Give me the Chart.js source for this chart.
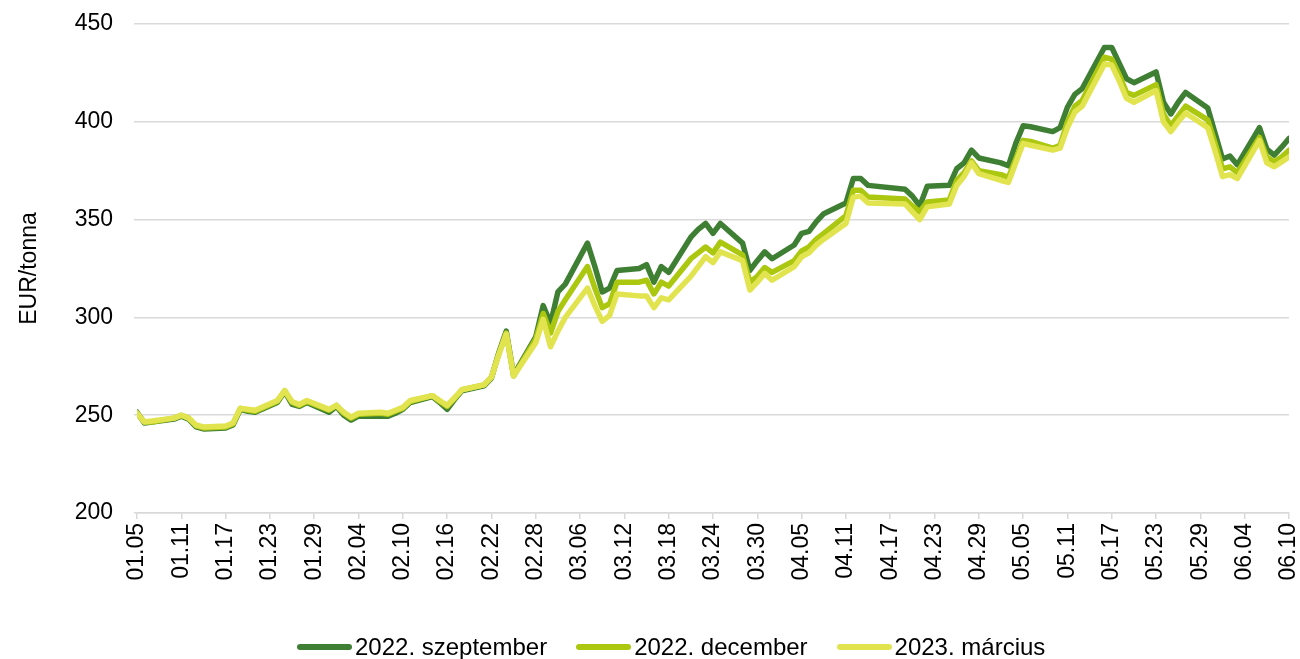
<!DOCTYPE html>
<html>
<head>
<meta charset="utf-8">
<script src="https://cdn.jsdelivr.net/npm/chart.js@4"></script>
<style>
  body { margin: 0; background: #fff; }
  #wrap { position: relative; width: 1300px; height: 659px; }
  #legend {
    position: absolute; left: 297px; top: 633px; height: 28px;
    display: flex; align-items: center;
    font-family: "Liberation Sans", Arial, sans-serif; font-size: 24px; color: #000;
  }
  .item { display: flex; align-items: center; margin-right: 29px; }
  .swatch { display: inline-block; width: 55px; height: 6px; border-radius: 3px; margin-right: 3px; }
</style>
</head>
<body>
<div id="wrap">
  <canvas id="chartCanvas" width="1300" height="659"></canvas>
  <div id="legend"></div>
</div>
<script>
// trading days, MM.DD (2022)
const dates = [
  '01.05','01.06','01.07','01.10','01.11','01.12','01.13','01.14','01.17','01.18','01.19','01.20','01.21','01.24','01.25','01.26','01.27','01.28','01.31',
  '02.01','02.02','02.03','02.04','02.07','02.08','02.09','02.10','02.11','02.14','02.15','02.16','02.17','02.18','02.21','02.22','02.23','02.24','02.25','02.28',
  '03.01','03.02','03.03','03.04','03.07','03.08','03.09','03.10','03.11','03.14','03.15','03.16','03.17','03.18','03.21','03.22','03.23','03.24','03.25','03.28','03.29','03.30','03.31',
  '04.01','04.04','04.05','04.06','04.07','04.08','04.11','04.12','04.13','04.14','04.19','04.20','04.21','04.22','04.25','04.26','04.27','04.28','04.29',
  '05.02','05.03','05.04','05.05','05.06','05.09','05.10','05.11','05.12','05.13','05.16','05.17','05.18','05.19','05.20','05.23','05.24','05.25','05.26','05.27','05.30','05.31',
  '06.01','06.02','06.03','06.06','06.07','06.08','06.09','06.10'
];

const tickLabels = ['01.05','01.11','01.17','01.23','01.29','02.04','02.10','02.16','02.22','02.28','03.06','03.12','03.18',
  '03.24','03.30','04.05','04.11','04.17','04.23','04.29','05.05','05.11','05.17','05.23','05.29','06.04','06.10'];

const seriesNames = ['2022. szeptember', '2022. december', '2023. március'];
const seriesColors = ['#3f7f34', '#abc70f', '#e2e44f'];

const sep2022 = [
  251.5, 246, 246.5, 248, 249.5, 248, 244, 243, 243.5, 245, 253, 252, 251.5, 256.5, 262, 255.5, 254.5, 256.5, 251.5,
  254.5, 250, 247.5, 249.5, 249.5, 249.5, 251, 253, 256.5, 259.5, 256.5, 253, 258, 262.5, 265, 269, 282, 293, 270.5, 290,
  306, 297, 313, 317, 338, 326, 313, 315, 324, 325, 327, 318, 326, 323, 341, 345, 348, 343, 348, 338, 324, 329, 333.5,
  330, 337, 343, 344, 349, 353, 358.5, 371, 371, 367.5, 365.5, 362, 357, 367, 367.5, 376, 379, 385.5, 381.5,
  379, 377.5, 389, 398, 397.5, 395, 397, 407.5, 414, 417, 438, 438, 430, 422, 420, 425.5, 410, 404, 410, 415, 407, 394,
  381, 382.5, 378, 397, 386, 383, 387, 391.5
];
const dec2022 = [
  251, 246.5, 246.5, 248.5, 250, 248.5, 244.5, 243.5, 244, 245.5, 253.5, 252.5, 252, 257, 262.5, 256.5, 255, 257, 252.5,
  255, 251, 248.5, 250.5, 251, 250.5, 252, 253.5, 257, 260, 257, 254.5, 258.5, 263, 265.5, 269.5, 281.5, 292, 270, 289,
  302, 292, 303, 309, 326, 315, 305, 307, 318, 318, 319, 312, 318, 316, 330, 333, 336, 333, 338.5, 332, 318, 321, 325.5,
  323, 329, 334, 336, 340, 343, 352, 365, 365, 361.5, 360.5, 357, 354, 359, 360, 370, 374, 380, 375,
  373, 371.5, 381, 390.5, 390, 386.5, 388, 400, 408, 411, 433, 432, 424, 415, 413.5, 419, 404, 398, 403, 408, 401, 389,
  376, 377, 374, 392, 382, 379.5, 382, 385.5
];
const mar2023 = [
  251, 246.5, 247, 248.5, 250, 248.5, 245, 244, 244.5, 246, 253.5, 253, 252.5, 257.5, 262.5, 257, 255.5, 257.5, 253,
  255, 251.5, 249, 251, 251.5, 251, 252.5, 254, 257.5, 260, 257.5, 255, 259, 263, 265.5, 269.5, 281, 291.5, 270, 287,
  299, 285, 293, 300, 315, 306, 298, 301, 312, 311, 311, 305, 310, 309, 321, 326, 331, 328, 333.5, 329, 314, 318, 322.5,
  319, 326, 331, 333, 337, 340, 348, 361.5, 362, 358.5, 358, 354, 350, 356.5, 358, 367.5, 372, 379, 373.5,
  370, 369, 379, 389, 388, 385.5, 386.5, 397, 405, 408, 429.5, 429, 421, 412, 410, 416, 400, 395, 400, 404.5, 397, 385,
  372, 373, 371, 390.5, 379, 377, 379.5, 382
];

const fontFamily = '"Liberation Sans", Arial, sans-serif';
const startDay = new Date(2022, 0, 5);

function dayOffset(label) {
  const parts = label.split('.');
  const d = new Date(2022, parseInt(parts[0]) - 1, parseInt(parts[1]));
  return Math.round((d - startDay) / 86400000);
}

function makeSeries(values) {
  return dates.map((d, i) => ({x: dayOffset(d), y: values[i]}));
}

const allValues = [sep2022, dec2022, mar2023];
const datasets = allValues.map((values, i) => ({
  label: seriesNames[i],
  data: makeSeries(values),
  borderColor: seriesColors[i],
  backgroundColor: seriesColors[i],
  borderWidth: 5.5,
  pointRadius: 0,
  tension: 0,
  fill: false,
  borderJoinStyle: 'round',
  borderCapStyle: 'round',
  order: 3 - i // lighter lines on top
}));

const ctx = document.getElementById('chartCanvas').getContext('2d');
const chart = new Chart(ctx, {
  type: 'line',
  data: {datasets: datasets},
  options: {
    responsive: false,
    animation: false,
    devicePixelRatio: 1,
    layout: {padding: {top: 24, right: 11, bottom: 0, left: 0}},
    scales: {
      x: {
        type: 'linear',
        min: 0,
        max: 156,
        afterFit: (scale) => {
          scale.height = 146;
          scale.paddingLeft = 0;
          scale.paddingRight = 0;
        },
        ticks: {
          stepSize: 6,
          autoSkip: false,
          minRotation: 90,
          maxRotation: 90,
          padding: 4,
          color: '#000',
          font: {family: fontFamily, size: 23},
          callback: (value) => tickLabels[Math.round(value / 6)]
        },
        grid: {drawOnChartArea: false, drawTicks: true, tickLength: 6, color: '#d9d9d9', lineWidth: 1.5},
        border: {display: true, color: '#d9d9d9', width: 1.5}
      },
      y: {
        min: 200,
        max: 450,
        afterFit: (scale) => {
          scale.width = 137;
          scale.paddingTop = 0;
          scale.paddingBottom = 0;
        },
        ticks: {
          stepSize: 50,
          padding: 21,
          color: '#000',
          font: {family: fontFamily, size: 23}
        },
        grid: {color: '#d9d9d9', lineWidth: 1.5, tickLength: 3},
        border: {display: false},
        title: {
          display: true,
          text: 'EUR/tonna',
          color: '#000',
          font: {family: fontFamily, size: 23},
          padding: {top: 16, bottom: 0}
        }
      }
    },
    plugins: {
      legend: {display: false},
      tooltip: {enabled: false}
    }
  }
});

// legend below the chart
const legendDiv = document.getElementById('legend');
seriesNames.forEach((name, i) => {
  const item = document.createElement('div');
  item.classList.add('item');
  const swatch = document.createElement('span');
  swatch.classList.add('swatch');
  swatch.style.background = seriesColors[i];
  const text = document.createElement('span');
  text.textContent = name;
  item.appendChild(swatch);
  item.appendChild(text);
  legendDiv.appendChild(item);
});
</script>
</body>
</html>
